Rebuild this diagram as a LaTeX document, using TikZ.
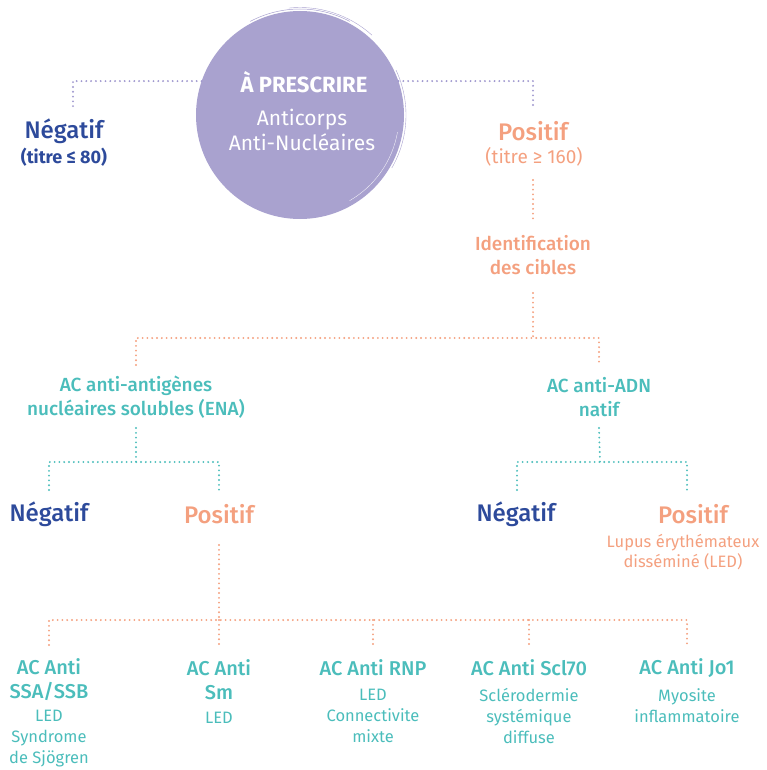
\documentclass[tikz,border=0pt]{standalone}
\usepackage{fontspec}
\setmainfont{Fira Sans}
\IfFontExistsTF{Fira Sans Medium}{\newfontfamily\medfont{Fira Sans Medium}}{\newfontfamily\medfont[FakeBold=0.4]{Fira Sans}}
\usetikzlibrary{positioning,calc}
\definecolor{ancpurple}{HTML}{A9A2CF}
\definecolor{linepurple}{HTML}{9F98CE}
\definecolor{negblue}{HTML}{2D4A9B}
\definecolor{possalmon}{HTML}{F4A07F}
\definecolor{acteal}{HTML}{4BBDBB}
\newcommand\pxsize[2]{\fontsize{#1}{#2}\selectfont}
\tikzset{
	dotline/.style={line width=2.1pt, line cap=round, dash pattern=on 0pt off 4.8pt},
	bignode/.style={inner sep=0pt, align=center, font=\medfont\pxsize{24}{24}},
	midnode/.style={inner sep=0pt, align=center, font=\medfont\pxsize{19}{24}},
	headnode/.style={inner sep=0pt, align=center, font=\medfont\pxsize{20}{24}, text=acteal},
	smallnode/.style={inner sep=0pt, align=center, font=\pxsize{16.5}{21}}
}

\begin{document}
\begin{tikzpicture}[x=1pt, y=1pt]
			%%%%% START %%%%%
			\useasboundingbox (0, 0) rectangle (766, -770);
			
			\node[circle, fill=ancpurple, minimum size=208pt, inner sep=0pt] (anc) at (300, -115) {};
			\draw[ancpurple, line width=0.5pt] (anc.center) ++(62:106) arc (62:118:106);
			\draw[ancpurple, line width=0.4pt] (anc.center) ++(48:107.5) arc (48:96:107.5);
			\draw[ancpurple, line width=0.4pt] (anc.center) ++(-30:106) arc (-30:25:106);
			\draw[white, line width=0.3pt] (anc.center) ++(-60:99) arc (-60:-10:99);
			\node[inner sep=0pt, text=white, font=\pxsize{22}{22}\bfseries] (prescrire) at (304, -82) {À PRESCRIRE};
			\node[inner sep=0pt, align=center, text=white, font=\pxsize{21}{25}] (anticorps) at (302, -130) {Anticorps\\Anti-Nucléaires};
			
			\node[bignode, text=negblue] (neg1) at (64, -131) {Négatif};
			\node[inner sep=0pt, text=negblue, font=\pxsize{18}{18}\bfseries] (neg1sub) at (64, -157) {(titre ≤ 80)};
			\node[bignode, text=possalmon] (pos1) at (533, -131) {Positif};
			\node[inner sep=0pt, text=possalmon, font=\pxsize{19}{19}] (pos1sub) at (534, -157) {(titre ≥ 160)};
			\coordinate (negend) at (73, -107);
			\coordinate (posend) at (533, -107);
			\draw[dotline, linepurple] (anc.161) -| (negend);
			\draw[dotline, linepurple] (anc.19) -| (posend);
			
			\node[midnode, text=possalmon] (ident) at (533, -255) {Identification\\des cibles};
			\draw[dotline, possalmon] (pos1 |- 0, -180) -- (ident |- 0, -220);
			
			\node[midnode, text=acteal] (ena) at (136, -397) {AC anti-antigènes\\nucléaires solubles (ENA)};
			\node[midnode, text=acteal] (adn) at (599, -397) {AC anti-ADN\\natif};
			\coordinate (bar1) at (533, -338);
			\draw[dotline, possalmon] (ident |- 0, -293) -- (bar1);
			\draw[dotline, possalmon] (ena |- 0, -365) |- (bar1) -| (adn |- 0, -365);
			
			\node[bignode, text=negblue] (neg2) at (49, -514) {Négatif};
			\node[bignode, text=possalmon] (pos2) at (219, -514) {Positif};
			\node[bignode, text=negblue] (neg3) at (516, -514) {Négatif};
			\node[bignode, text=possalmon] (pos3) at (693, -514) {Positif};
			\node[smallnode, text=possalmon, font=\pxsize{16.5}{20}] (lupus) at (683, -552) {Lupus érythémateux\\disséminé (LED)};
			\coordinate (bar2) at (136, -462);
			\coordinate (bar3) at (600, -462);
			\draw[dotline, acteal] (ena |- 0, -428) -- (bar2);
			\draw[dotline, acteal] (neg2 |- 0, -490) |- (bar2) -| (pos2 |- 0, -490);
			\draw[dotline, acteal] (adn |- 0, -428) -- (bar3);
			\draw[dotline, acteal] (517, -490) |- (bar3) -| (687, -490);
			
			\node[headnode] (ssa) at (49, -680) {AC Anti\\SSA/SSB};
			\node[headnode] (sm) at (219, -680) {AC Anti\\Sm};
			\node[headnode] (rnp) at (373, -668) {AC Anti RNP};
			\node[headnode] (scl) at (529, -668) {AC Anti Scl70};
			\node[headnode] (jo) at (687, -668) {AC Anti Jo1};
			\node[smallnode, text=acteal] (ssadesc) at (49, -739) {LED\\Syndrome\\de Sjögren};
			\node[smallnode, text=acteal] (smdesc) at (219, -718) {LED};
			\node[smallnode, text=acteal] (rnpdesc) at (373, -716) {LED\\Connectivite\\mixte};
			\node[smallnode, text=acteal] (scldesc) at (529, -716) {Sclérodermie\\systémique\\diffuse};
			\node[smallnode, text=acteal] (jodesc) at (687, -705.5) {Myosite\\inflammatoire};
			
			\coordinate (bar4) at (219, -620);
			\draw[dotline, possalmon] (pos2 |- 0, -545) -- (bar4);
			\draw[dotline, possalmon] (ssa |- 0, -645) |- (bar4) -| (jo |- 0, -645);
			\draw[dotline, possalmon] (sm |- bar4) -- (sm |- 0, -645);
			\draw[dotline, possalmon] (rnp |- bar4) -- (rnp |- 0, -645);
			\draw[dotline, possalmon] (scl |- bar4) -- (scl |- 0, -645);
			%%%%% END %%%%%
\end{tikzpicture}
\end{document}
